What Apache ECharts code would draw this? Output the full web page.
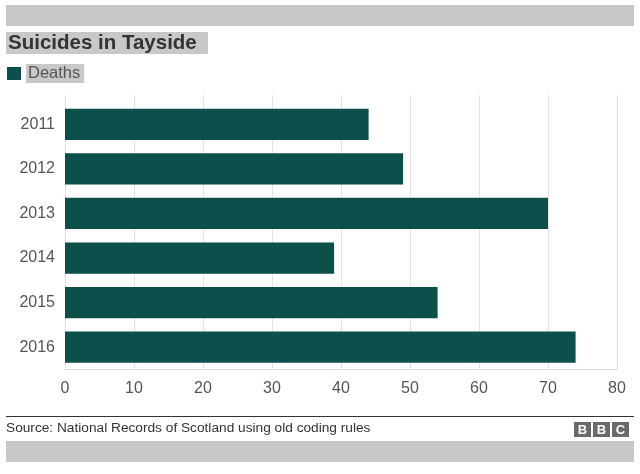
<!DOCTYPE html>
<html><head><meta charset="utf-8">
<script src="https://cdn.jsdelivr.net/npm/echarts@6/dist/echarts.min.js"></script>
<style>html,body{margin:0;padding:0;background:#fff}#c{width:640px;height:474px}</style>
</head><body><div id="c"></div>
<script>
var categories = ['2011','2012','2013','2014','2015','2016'];
var deaths = [44, 49, 70, 39, 54, 74];
var xTicks = [0,10,20,30,40,50,60,70,80];
var seriesName = 'Deaths';
var titleText = 'Suicides in Tayside';
var sourceText = 'Source: National Records of Scotland using old coding rules';

var chart = echarts.init(document.getElementById('c'));
var font = '"Liberation Sans", Arial, sans-serif';
var xMin = xTicks[0], xMax = xTicks[xTicks.length-1], xInt = xTicks[1]-xTicks[0];
chart.setOption({
  animation: false,
  textStyle: {fontFamily: font},
  legend: {
    left: 7, top: 64, padding: 0, itemWidth: 14, itemHeight: 13, itemGap: 6, icon: 'rect',
    data: [seriesName],
    textStyle: {fontSize: 16.5, color: '#555', backgroundColor: '#c8c8c8', padding: [1, 4, 1, 2], lineHeight: 17}
  },
  grid: [
    {left: 65, right: 23, top: 102, bottom: 104.5, containLabel: false},
    {left: 65, right: 23, top: 95, height: 7, containLabel: false}
  ],
  xAxis: [
    {gridIndex: 0, type: 'value', min: xMin, max: xMax, interval: xInt,
     axisLine: {show: true, lineStyle: {color: '#ddd'}}, axisTick: {show: false},
     axisLabel: {fontSize: 16, color: '#555', margin: 11},
     splitLine: {show: true, lineStyle: {color: '#e3e3e3'}}},
    {gridIndex: 1, type: 'value', min: xMin, max: xMax, interval: xInt,
     axisLine: {show: false}, axisTick: {show: false}, axisLabel: {show: false},
     splitLine: {show: true, lineStyle: {color: '#e3e3e3'}}}
  ],
  yAxis: [
    {gridIndex: 0, type: 'category', data: categories, inverse: true,
     axisLine: {show: false}, axisTick: {show: false},
     axisLabel: {fontSize: 16, color: '#555', margin: 10}},
    {gridIndex: 1, type: 'category', data: [''], axisLine: {show: false}, axisTick: {show: false}, axisLabel: {show: false}}
  ],
  series: [{
    name: seriesName, type: 'bar', data: deaths, barWidth: '70%',
    itemStyle: {color: '#0c4f4b'}, xAxisIndex: 0, yAxisIndex: 0
  }],
  graphic: [
    {type: 'rect', shape: {x: 6, y: 5, width: 628, height: 21}, style: {fill: '#c8c8c8'}},
    {type: 'rect', shape: {x: 6, y: 32, width: 202, height: 22}, style: {fill: '#c8c8c8'}},
    {type: 'text', x: 8, y: 43, style: {text: titleText, font: 'bold 20.5px ' + font, fill: '#333', verticalAlign: 'middle'}},
    {type: 'rect', shape: {x: 6, y: 441, width: 628, height: 21}, style: {fill: '#c8c8c8'}},
    {type: 'line', shape: {x1: 6, y1: 416.5, x2: 634, y2: 416.5}, style: {stroke: '#333', lineWidth: 1}},
    {type: 'text', x: 6, y: 428, style: {text: sourceText, font: '13.7px ' + font, fill: '#333', verticalAlign: 'middle'}},
    {type: 'group', x: 574, y: 422, children: [
      {type: 'rect', shape: {x: 0, y: 0, width: 17, height: 15}, style: {fill: '#6a6a6a'}},
      {type: 'rect', shape: {x: 19, y: 0, width: 17, height: 15}, style: {fill: '#6a6a6a'}},
      {type: 'rect', shape: {x: 38, y: 0, width: 17, height: 15}, style: {fill: '#6a6a6a'}},
      {type: 'text', x: 8.5, y: 8, style: {text: 'B', font: 'bold 13px ' + font, fill: '#fff', align: 'center', verticalAlign: 'middle'}},
      {type: 'text', x: 27.5, y: 8, style: {text: 'B', font: 'bold 13px ' + font, fill: '#fff', align: 'center', verticalAlign: 'middle'}},
      {type: 'text', x: 46.5, y: 8, style: {text: 'C', font: 'bold 13px ' + font, fill: '#fff', align: 'center', verticalAlign: 'middle'}}
    ]}
  ]
});
</script></body></html>
